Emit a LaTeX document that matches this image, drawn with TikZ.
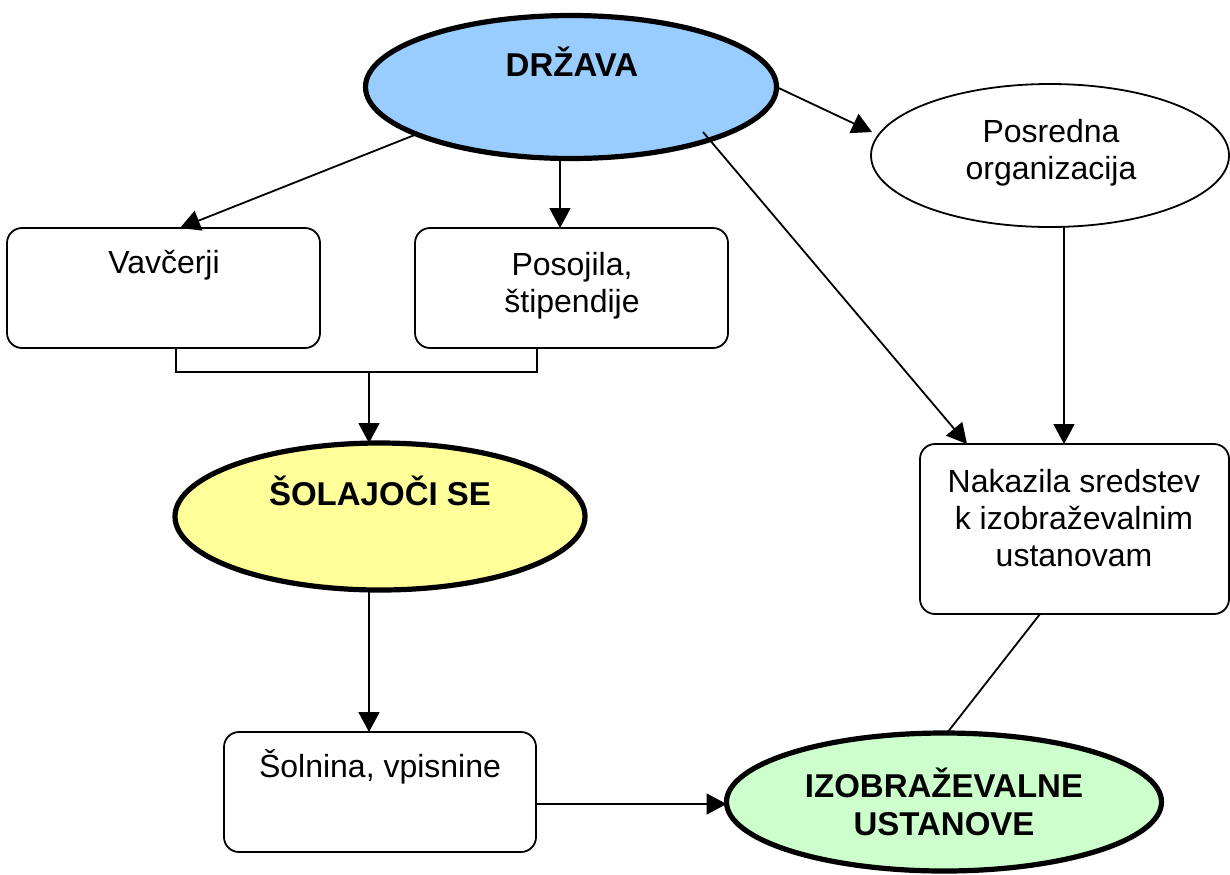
\documentclass[tikz,border=0pt]{standalone}
\usepackage{fontspec}
\setmainfont{Liberation Sans}
\usetikzlibrary{arrows.meta,shapes.geometric,calc}
\definecolor{blueF}{HTML}{99CCFF}
\definecolor{yellowF}{HTML}{FFFF99}
\definecolor{greenF}{HTML}{CCFFCC}
\newcommand\mylines[1]{\begin{tabular}[t]{@{}c@{}}#1\end{tabular}}
\begin{document}
\begin{tikzpicture}[x=0.5pt,y=-0.5pt,
  every node/.style={inner sep=0pt, outer sep=0pt},
  txt/.style={font=\fontsize{16}{18.5}\selectfont, anchor=base},
  boldtxt/.style={font=\fontsize{16.5}{19}\selectfont\bfseries, anchor=base},
  box/.style={draw, rectangle, line width=0.9pt, rounded corners=7.5pt, fill=white},
  thinoval/.style={draw, ellipse, line width=0.9pt, fill=white},
  thickoval/.style={draw, ellipse, line width=2.6pt},
  conn/.style={line width=0.9pt},
  arr/.style={conn, -{Triangle[length=10pt,width=10.5pt]}}
]
\useasboundingbox (0,0) rectangle (1230,874);
% nodes
\node[thickoval, fill=blueF, minimum width=205.5pt, minimum height=71.5pt] (drzava) at (571,87) {};
\node[boldtxt] (tdrzava) at (572,76) {DRŽAVA};
\node[thinoval, minimum width=179pt, minimum height=71.5pt] (posredna) at (1050,155.5) {};
\node[txt] (tposredna) at (1051,142) {\mylines{Posredna\\organizacija}};
\node[box, minimum width=156.5pt, minimum height=60pt] (vav) at (163.5,288) {};
\node[txt] (tvav) at (164,273) {Vavčerji};
\node[box, minimum width=156.5pt, minimum height=60pt] (pos) at (571.5,288) {};
\node[txt] (tpos) at (572,275) {\mylines{Posojila,\\štipendije}};
\node[thickoval, fill=yellowF, minimum width=205pt, minimum height=73.5pt] (sol) at (380,516.5) {};
\node[boldtxt] (tsol) at (380,505) {ŠOLAJOČI SE};
\node[box, minimum width=154.5pt, minimum height=85pt] (nak) at (1074.5,529) {};
\node[txt] (tnak) at (1074,492) {\mylines{Nakazila sredstev\\k izobraževalnim\\ustanovam}};
\node[box, minimum width=156pt, minimum height=60pt] (soln) at (380,792) {};
\node[txt] (tsoln) at (380,777) {Šolnina, vpisnine};
\node[thickoval, fill=greenF, minimum width=217.5pt, minimum height=69pt] (izo) at (944,802) {};
\node[boldtxt] (tizo) at (944,797) {\mylines{IZOBRAŽEVALNE\\USTANOVE}};
% connectors
\draw[arr] (drzava.-163.7) -- ([xshift=8.25pt]vav.north);
\draw[arr] ([xshift=-5.5pt]drzava.south) -- ([xshift=-5.75pt]pos.north);
\draw[arr] (drzava.east) -- ($(posredna.center)+(-89pt,11.75pt)$);
\draw[arr] ($(drzava.center)+(66pt,-22.5pt)$) -- ([xshift=-53.75pt]nak.north);
\draw[arr] ([xshift=7pt]posredna.south) -- ([xshift=-5.25pt]nak.north);
\draw[conn] ([xshift=6.25pt]vav.south) -- ++(0,-12pt) -| ([xshift=-17.25pt]pos.south);
\coordinate (join) at (369,372);
\draw[arr] (join) -- (join |- sol.north);
\draw[arr] ([xshift=-5.5pt]sol.south) -- ([xshift=-5.5pt]soln.north);
\draw[arr] ([yshift=-6pt]soln.east) -- ([yshift=-1pt]izo.west);
\draw[conn] ([xshift=-17.25pt]nak.south) -- ([xshift=1.5pt]izo.north);
\end{tikzpicture}
\end{document}
